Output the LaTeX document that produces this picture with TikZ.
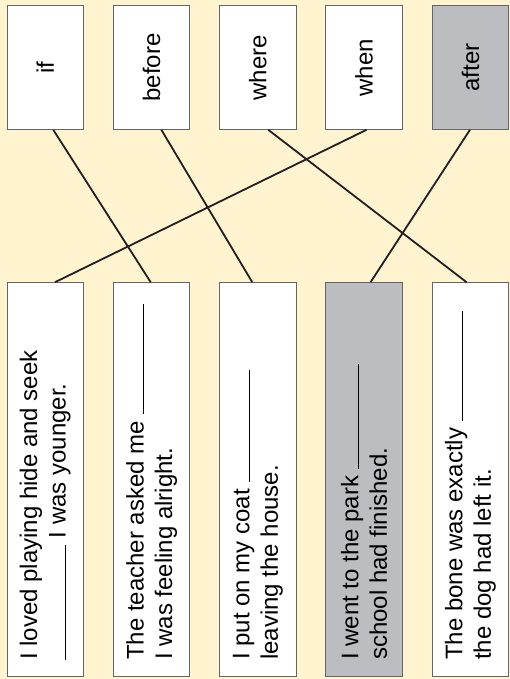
\documentclass[tikz,border=0pt]{standalone}
\usepackage{fontspec}
\setmainfont{Liberation Sans}
\definecolor{bgyellow}{RGB}{255,244,207}
\definecolor{boxgray}{RGB}{188,189,192}
\definecolor{edgegray}{RGB}{100,101,103}
\definecolor{linedark}{RGB}{35,31,32}
\newcommand{\blank}[1]{\rule{#1}{0.8pt}}
\newcommand{\sent}[2]{\rotatebox{90}{\parbox{361pt}{\raggedright #1\\#2}}}
\begin{document}
\begin{tikzpicture}[x=1pt,y=-1pt,
  every node/.style={font=\fontsize{24}{28.5}\selectfont, inner sep=0pt},
  wordbox/.style={draw=edgegray, line width=1pt, fill=white, minimum width=76.5pt, minimum height=123.3pt},
  sentbox/.style={draw=edgegray, line width=1pt, fill=white, minimum width=76.5pt, minimum height=393.3pt},
  grayed/.style={fill=boxgray},
  link/.style={draw=linedark, line width=1.8pt}]
\useasboundingbox (0,0) rectangle (510,679);
\fill[bgyellow] (0,0) rectangle (510,679);
% top word boxes
\node[wordbox] (t1) at (45.25,67.65) {\rotatebox{90}{if}};
\node[wordbox] (t2) at (151.55,67.65) {\rotatebox{90}{before}};
\node[wordbox] (t3) at (257.85,67.65) {\rotatebox{90}{where}};
\node[wordbox] (t4) at (364.15,67.65) {\rotatebox{90}{when}};
\node[wordbox, grayed] (t5) at (470.45,67.65) {\rotatebox{90}{after}};
% bottom sentence boxes
\node[sentbox] (b1) at (45.25,479.35) {\sent{I loved playing hide and seek}{\blank{115pt} I was younger.}};
\node[sentbox] (b2) at (151.55,479.35) {\sent{The teacher asked me \blank{110pt}}{I was feeling alright.}};
\node[sentbox] (b3) at (257.85,479.35) {\sent{I put on my coat \blank{112pt}}{leaving the house.}};
\node[sentbox, grayed] (b4) at (364.15,479.35) {\sent{I went to the park \blank{105pt}}{school had finished.}};
\node[sentbox] (b5) at (470.45,479.35) {\sent{The bone was exactly \blank{110pt}}{the dog had left it.}};
% connectors
\draw[link] ([xshift=8pt]t1.south) -- ([xshift=-0.85pt]b2.north);
\draw[link] ([xshift=9.8pt]t2.south) -- ([xshift=-5.6pt]b3.north);
\draw[link] ([xshift=10.4pt]t3.south) -- ([xshift=-3.9pt]b5.north);
\draw[link] ([xshift=2.4pt]t4.south) -- ([xshift=9.75pt]b1.north);
\draw[link] ([xshift=-0.5pt]t5.south) -- ([xshift=6.4pt]b4.north);
\end{tikzpicture}
\end{document}
